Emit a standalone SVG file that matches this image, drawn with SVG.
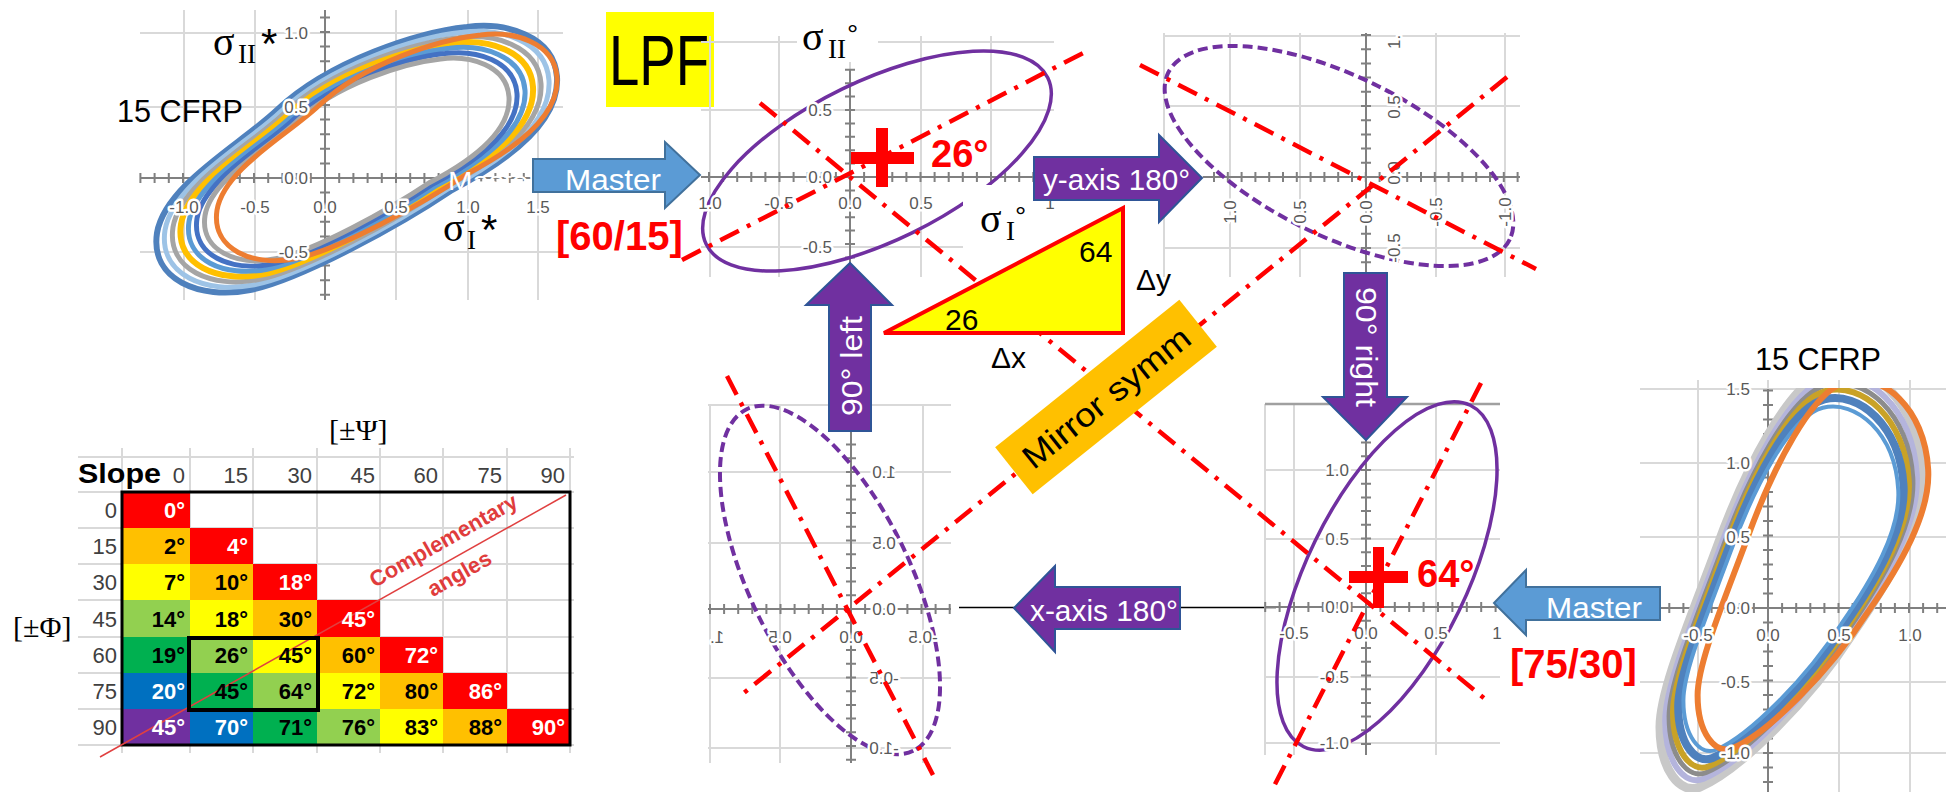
<svg xmlns="http://www.w3.org/2000/svg" width="1946" height="792" viewBox="0 0 1946 792">
<defs>
<style>
.grid{stroke:#d9d9d9;stroke-width:2;fill:none}
.axis{stroke:#808080;stroke-width:2;fill:none}
.tick{stroke:#808080;stroke-width:10;fill:none}
.lbl{font-family:"Liberation Sans",Arial,sans-serif;font-size:17px;fill:#595959;stroke:#fff;stroke-width:5;paint-order:stroke;stroke-linejoin:round}
.mid{text-anchor:middle}
.end{text-anchor:end}
.pe{fill:none;stroke:#7030a0;stroke-width:3.5}
.pd{fill:none;stroke:#7030a0;stroke-width:4;stroke-dasharray:10 5}
.rd{fill:none;stroke:#ff0000;stroke-width:4.5;stroke-dasharray:21 9 4 9}
.pa{fill:#7030a0;stroke:#2f5597;stroke-width:2}
.ba{fill:#5b9bd5;stroke:#41719c;stroke-width:2}
.at{font-family:"Liberation Sans",Arial,sans-serif;font-size:29px;fill:#fff}
.sans{font-family:"Liberation Sans",Arial,sans-serif}
.serif{font-family:"Liberation Serif","Times New Roman",serif}
.red{fill:#ff0000;font-weight:bold;font-family:"Liberation Sans",Arial,sans-serif}
.cell{font-family:"Liberation Sans",Arial,sans-serif;font-size:22px;font-weight:bold;text-anchor:end}
.hd{font-family:"Liberation Sans",Arial,sans-serif;font-size:22px;fill:#404040;text-anchor:end}
.loop{fill:none;stroke-width:5;stroke-linejoin:round}
.R{fill:#ff0000}.O{fill:#ffc000}.Y{fill:#ffff00}.LG{fill:#92d050}.G{fill:#00b050}.B{fill:#0070c0}.P{fill:#7030a0}
.w{fill:#fff}.k{fill:#000}
</style>
<clipPath id="c6"><rect x="1640" y="388" width="306" height="404"/></clipPath>
<path id="loopA" vector-effect="non-scaling-stroke" d="M452,190C500,165 560,125 557,77C554,35 505,22 467,27C420,32 330,60 277,110C240,145 165,185 157,233C150,280 200,300 250,290C300,280 400,225 452,190Z"/>
<path id="loopB" vector-effect="non-scaling-stroke" d="M1853,633C1890,580 1925,520 1922,470C1918,400 1870,360 1830,370C1790,380 1745,470 1717,547C1690,620 1660,690 1660,727C1660,770 1680,795 1700,787C1740,770 1810,700 1853,633Z"/>
</defs>
<rect x="0" y="0" width="1946" height="792" fill="#fff"/>

<!-- Chart 1: top-left CFRP -->
<g id="chart1">
<path class="grid" d="M184,10V300M255,10V300M325,10V300M396,10V300M468,10V300M538,10V300M140,33H563M140,107H563M140,178H563M140,252H563"/>
<path class="axis" d="M140,178H563M325,10V300"/>
<path class="tick" d="M139.4,178H563" stroke-dasharray="2 12.2"/>
<path class="tick" d="M325,16.4V300" stroke-dasharray="2 12.6"/>
<g class="loop">
<use href="#loopA" stroke="#4f81bd" stroke-width="6"/>
<use href="#loopA" transform="matrix(0.96,0,0,0.96,14.28,6.4)" stroke="#9dc3e6"/>
<use href="#loopA" transform="matrix(0.92,0,0,0.92,28.56,12.8)" stroke="#a5a5a5"/>
<use href="#loopA" transform="matrix(0.88,0,0,0.88,42.84,19.2)" stroke="#ffc000" stroke-width="6"/>
<use href="#loopA" transform="matrix(0.84,0,0,0.84,57.12,25.6)" stroke="#5b9bd5"/>
<use href="#loopA" transform="matrix(0.8,0,0,0.8,71.4,32)" stroke="#4472c4"/>
<use href="#loopA" transform="matrix(0.76,0,0,0.76,85.68,38.4)" stroke="#a5a5a5"/>
<use href="#loopA" transform="matrix(0.85,0,0,0.85,83.55,12)" stroke="#ed7d31"/>
</g>
<g class="lbl mid">
<text x="184" y="213">-1.0</text><text x="255" y="213">-0.5</text><text x="325" y="213">0.0</text><text x="396" y="213">0.5</text><text x="468" y="213">1.0</text><text x="538" y="213">1.5</text>
</g>
<g class="lbl end">
<text x="308" y="39">1.0</text><text x="308" y="113">0.5</text><text x="308" y="184">0.0</text><text x="308" y="258">-0.5</text>
</g>
<text class="sans" x="448" y="190" font-size="26" fill="#fff" textLength="90" lengthAdjust="spacingAndGlyphs">Master</text>
<text class="sans" x="117" y="122" font-size="31" textLength="126" lengthAdjust="spacingAndGlyphs">15 CFRP</text>
<text class="serif" x="213" y="55" font-size="40">σ</text><text class="serif" x="238" y="63" font-size="27">II</text><text class="sans" x="261" y="58" font-size="42">*</text>
<text class="serif" x="443" y="241" font-size="40">σ</text><text class="serif" x="467" y="249" font-size="27">I</text><text class="sans" x="481" y="244" font-size="42">*</text>
</g>

<!-- LPF -->
<g id="lpf">
<rect x="606" y="12" width="108" height="95" fill="#ffff00"/>
<text class="sans" x="609" y="85" font-size="70" textLength="100" lengthAdjust="spacingAndGlyphs">LPF</text>
</g>

<!-- Chart 2: top middle -->
<g id="chart2">
<path class="grid" d="M710,36V277M779,36V277M850,36V277M921,36V277M991,36V277M701,42H1054M701,110H1054M701,177H1054M701,247H1054"/>
<path class="axis" d="M701,177H1054M850,70V263"/>
<path class="tick" d="M708,177H1054" stroke-dasharray="2 12.1"/>
<path class="tick" d="M850,68.8V263" stroke-dasharray="2 11.4"/>
<ellipse class="pe" cx="877" cy="161" rx="190" ry="80" transform="rotate(-26 877 161)"/>
<rect x="963" y="185" width="97" height="95" fill="#fff"/>
<rect x="797" y="18" width="81" height="44" fill="#fff"/>
<g class="lbl mid">
<text x="710" y="209">1.0</text><text x="779" y="209">-0.5</text><text x="850" y="209">0.0</text><text x="921" y="209">0.5</text><text x="1050" y="209">1</text>
</g>
<g class="lbl end">
<text x="832" y="116">0.5</text><text x="832" y="183">0.0</text><text x="832" y="253">-0.5</text>
</g>
<text class="serif" x="802" y="50" font-size="40">σ</text><text class="serif" x="828" y="58" font-size="27">II</text><text class="sans" x="847" y="44" font-size="28">°</text>
</g>

<!-- Chart 3: top right dashed -->
<g id="chart3">
<path class="grid" d="M1164,33V277M1230,33V277M1300,33V277M1366,33V277M1436,33V277M1505,33V277M1164,36H1520M1164,106H1520M1164,177H1520M1164,248H1520"/>
<path class="axis" d="M1203,177H1520M1366,33V272"/>
<path class="tick" d="M1213,177H1520" stroke-dasharray="2 11.8"/>
<path class="tick" d="M1366,34V272" stroke-dasharray="2 12.2"/>
<ellipse class="pd" cx="1339" cy="156" rx="190" ry="80" transform="rotate(26 1339 156)"/>
<g class="lbl mid">
<text transform="translate(1236,212) rotate(-90)">1.0</text>
<text transform="translate(1306,212) rotate(-90)">0.5</text>
<text transform="translate(1372,212) rotate(-90)">0.0</text>
<text transform="translate(1442,212) rotate(-90)">-0.5</text>
<text transform="translate(1511,212) rotate(-90)">-1.0</text>
<text transform="translate(1400,107) rotate(-90)">0.5</text>
<text transform="translate(1400,173) rotate(-90)">0.0</text>
<text transform="translate(1400,248) rotate(-90)">-0.5</text>
</g>
<text class="lbl" transform="translate(1400,49) rotate(-90)">1.</text>
</g>

<!-- Chart 4: bottom left dashed (mirrored labels) -->
<g id="chart4">
<path class="grid" d="M710,405V763M780,405V763M851,405V763M923,405V763M708,405H951M708,472H951M708,543H951M708,609H951M708,678H951M708,748H951"/>
<path class="axis" d="M708,609H951M851,431V763"/>
<path class="tick" d="M709,609H951" stroke-dasharray="2 12.1"/>
<path class="tick" d="M851,443.6V763" stroke-dasharray="2 11.7"/>
<ellipse class="pd" cx="830" cy="580" rx="190" ry="80" transform="rotate(64 830 580)"/>
<g class="lbl mid">
<text transform="translate(884,478) scale(-1,1)">1.0</text>
<text transform="translate(884,549) scale(-1,1)">0.5</text>
<text transform="translate(884,615) scale(-1,1)">0.0</text>
<text transform="translate(884,684) scale(-1,1)">-0.5</text>
<text transform="translate(884,754) scale(-1,1)">-1.0</text>
<text transform="translate(717,643) scale(-1,1)">1.</text>
<text transform="translate(780,643) scale(-1,1)">0.5</text>
<text transform="translate(851,643) scale(-1,1)">0.0</text>
<text transform="translate(923,643) scale(-1,1)">-0.5</text>
</g>
</g>

<!-- Chart 5: bottom middle-right solid -->
<g id="chart5">
<line x1="959" y1="607.5" x2="1276" y2="607.5" stroke="#000" stroke-width="1.5"/>
<path class="grid" d="M1265,404V755M1294,404V755M1366,404V755M1436,404V755M1265,470H1500M1265,539H1500M1265,607H1500M1265,677H1500M1265,743H1500"/>
<path d="M1265,404H1500" stroke="#a0a0a0" stroke-width="2.5"/>
<path class="axis" d="M1265,607H1500M1366,440V755"/>
<path class="tick" d="M1264.2,607H1500" stroke-dasharray="2 12.4"/>
<path class="tick" d="M1366,441.6V755" stroke-dasharray="2 11.7"/>
<ellipse class="pe" cx="1387" cy="576" rx="190" ry="80" transform="rotate(-64 1387 576)"/>
<g class="lbl end">
<text x="1349" y="476">1.0</text><text x="1349" y="545">0.5</text><text x="1349" y="613">0.0</text><text x="1349" y="683">-0.5</text><text x="1349" y="749">-1.0</text>
</g>
<g class="lbl mid">
<text x="1294" y="639">-0.5</text><text x="1366" y="639">0.0</text><text x="1436" y="639">0.5</text><text x="1497" y="639">1</text>
</g>
</g>

<!-- Chart 6: right CFRP -->
<g id="chart6">
<path class="grid" d="M1698,380V792M1768,380V792M1839,380V792M1910,380V792M1640,389H1946M1640,463H1946M1640,537H1946M1640,608H1946M1640,682H1946M1640,753H1946"/>
<path class="axis" d="M1640,608H1946M1768,389V792"/>
<path class="tick" d="M1640.1,608H1946" stroke-dasharray="2 12.1"/>
<path class="tick" d="M1768,389.5V792" stroke-dasharray="2 12.5"/>
<g class="loop" clip-path="url(#c6)">
<use href="#loopB" stroke="#c8c8c8" stroke-width="9"/>
<use href="#loopB" transform="matrix(0.96,0,0,0.96,71.6,23.2)" stroke="#b4b4dc" stroke-width="6"/>
<use href="#loopB" transform="matrix(0.93,0,0,0.93,125.3,40.6)" stroke="#8c8c8c"/>
<use href="#loopB" transform="matrix(0.9,0,0,0.9,179,58)" stroke="#c9a227" stroke-width="6"/>
<use href="#loopB" transform="matrix(0.86,0,0,0.86,250.6,81.2)" stroke="#4f81bd" stroke-width="8"/>
<use href="#loopB" transform="matrix(0.82,0,0,0.82,322.2,104.4)" stroke="#5b9bd5" stroke-width="4"/>
<use href="#loopB" transform="matrix(0.88,0,0,0.88,236.8,55.6)" stroke="#ed7d31" stroke-width="6"/>
</g>
<g class="lbl end">
<text x="1750" y="395">1.5</text><text x="1750" y="469">1.0</text><text x="1750" y="543">0.5</text><text x="1750" y="614">0.0</text><text x="1750" y="688">-0.5</text><text x="1750" y="759">-1.0</text>
</g>
<g class="lbl mid">
<text x="1698" y="641">-0.5</text><text x="1768" y="641">0.0</text><text x="1839" y="641">0.5</text><text x="1910" y="641">1.0</text>
</g>
<text class="sans" x="1755" y="370" font-size="31" textLength="126" lengthAdjust="spacingAndGlyphs">15 CFRP</text>
</g>

<!-- Table -->
<g id="table">
<path class="grid" d="M122,448V753M190,448V753M253,448V753M317,448V753M380,448V753M443,448V753M507,448V753M570,448V753M78,457H574M78,492H574M78,528H574M78,564H574M78,600H574M78,637H574M78,673H574M78,709H574M78,745H574"/>
<rect class="R" x="122" y="492" width="68" height="36"/>
<rect class="O" x="122" y="528" width="68" height="36"/><rect class="R" x="190" y="528" width="63" height="36"/>
<rect class="Y" x="122" y="564" width="68" height="36"/><rect class="O" x="190" y="564" width="63" height="36"/><rect class="R" x="253" y="564" width="64" height="36"/>
<rect class="LG" x="122" y="600" width="68" height="37"/><rect class="Y" x="190" y="600" width="63" height="37"/><rect class="O" x="253" y="600" width="64" height="37"/><rect class="R" x="317" y="600" width="63" height="37"/>
<rect class="G" x="122" y="637" width="68" height="36"/><rect class="LG" x="190" y="637" width="63" height="36"/><rect class="Y" x="253" y="637" width="64" height="36"/><rect class="O" x="317" y="637" width="63" height="36"/><rect class="R" x="380" y="637" width="63" height="36"/>
<rect class="B" x="122" y="673" width="68" height="36"/><rect class="G" x="190" y="673" width="63" height="36"/><rect class="LG" x="253" y="673" width="64" height="36"/><rect class="Y" x="317" y="673" width="63" height="36"/><rect class="O" x="380" y="673" width="63" height="36"/><rect class="R" x="443" y="673" width="64" height="36"/>
<rect class="P" x="122" y="709" width="68" height="36"/><rect class="B" x="190" y="709" width="63" height="36"/><rect class="G" x="253" y="709" width="64" height="36"/><rect class="LG" x="317" y="709" width="63" height="36"/><rect class="Y" x="380" y="709" width="63" height="36"/><rect class="O" x="443" y="709" width="64" height="36"/><rect class="R" x="507" y="709" width="63" height="36"/>
<rect x="122" y="492" width="448" height="253" fill="none" stroke="#000" stroke-width="3"/>
<line x1="566" y1="495" x2="100" y2="757" stroke="#e04040" stroke-width="1.5"/>
<g class="cell">
<text class="w" x="185" y="518">0°</text>
<text class="k" x="185" y="554">2°</text><text class="w" x="248" y="554">4°</text>
<text class="k" x="185" y="590">7°</text><text class="k" x="248" y="590">10°</text><text class="w" x="312" y="590">18°</text>
<text class="k" x="185" y="627">14°</text><text class="k" x="248" y="627">18°</text><text class="k" x="312" y="627">30°</text><text class="w" x="375" y="627">45°</text>
<text class="k" x="185" y="663">19°</text><text class="k" x="248" y="663">26°</text><text class="k" x="312" y="663">45°</text><text class="k" x="375" y="663">60°</text><text class="w" x="438" y="663">72°</text>
<text class="w" x="185" y="699">20°</text><text class="k" x="248" y="699">45°</text><text class="k" x="312" y="699">64°</text><text class="k" x="375" y="699">72°</text><text class="k" x="438" y="699">80°</text><text class="w" x="502" y="699">86°</text>
<text class="w" x="185" y="735">45°</text><text class="w" x="248" y="735">70°</text><text class="k" x="312" y="735">71°</text><text class="k" x="375" y="735">76°</text><text class="k" x="438" y="735">83°</text><text class="k" x="502" y="735">88°</text><text class="w" x="565" y="735">90°</text>
</g>
<rect x="189" y="638" width="129" height="72" fill="none" stroke="#000" stroke-width="4"/>
<g class="hd">
<text x="185" y="483">0</text><text x="248" y="483">15</text><text x="312" y="483">30</text><text x="375" y="483">45</text><text x="438" y="483">60</text><text x="502" y="483">75</text><text x="565" y="483">90</text>
<text x="117" y="518">0</text><text x="117" y="554">15</text><text x="117" y="590">30</text><text x="117" y="627">45</text><text x="117" y="663">60</text><text x="117" y="699">75</text><text x="117" y="735">90</text>
</g>
<text class="sans" x="78" y="483" font-size="27" font-weight="bold" textLength="83" lengthAdjust="spacingAndGlyphs">Slope</text>
<text class="sans" transform="translate(447,547) rotate(-29.5)" font-size="22" font-weight="bold" fill="#e03c3c" text-anchor="middle">Complementary</text>
<text class="sans" transform="translate(463,580) rotate(-29.5)" font-size="22" font-weight="bold" fill="#e03c3c" text-anchor="middle">angles</text>
<text class="serif" x="329" y="440" font-size="30">[±Ψ]</text>
<text class="serif" x="13" y="637" font-size="30">[±Φ]</text>
</g>

<!-- Red dash-dot symmetry lines -->
<g id="symmetry-lines">
<path class="rd" d="M682,260L1085,52"/>
<path class="rd" d="M760,103L1490,703"/>
<path class="rd" d="M1140,65L1536,269"/>
<path class="rd" d="M1507,77L740,696"/>
<path class="rd" d="M727,376L933,775"/>
<path class="rd" d="M1481,383L1272,790"/>
</g>

<!-- Triangle -->
<g id="triangle">
<polygon points="884,333 1123,208 1123,333" fill="#ffff00" stroke="#ff0000" stroke-width="4" stroke-linejoin="miter"/>
<text class="sans" x="1079" y="262" font-size="30">64</text>
<text class="sans" x="945" y="330" font-size="30">26</text>
<text class="sans" x="1136" y="290" font-size="30">Δy</text>
<text class="sans" x="991" y="368" font-size="30">Δx</text>
<text class="serif" x="980" y="232" font-size="40">σ</text><text class="serif" x="1006" y="240" font-size="27">I</text><text class="sans" x="1015" y="226" font-size="28">°</text>
</g>

<!-- Mirror symm -->
<g id="mirror" transform="translate(1106,397) rotate(-38.7)">
<rect x="-118" y="-30" width="236" height="60" fill="#ffc000"/>
<text class="sans" x="0" y="12" font-size="33" text-anchor="middle" textLength="205" lengthAdjust="spacingAndGlyphs">Mirror symm</text>
</g>

<!-- Crosses and angle labels -->
<g id="marks">
<rect x="876" y="128" width="12" height="59" fill="#ff0000"/>
<rect x="851" y="152" width="63" height="12" fill="#ff0000"/>
<text class="red" x="931" y="167" font-size="38">26°</text>
<rect x="1373" y="547" width="11" height="61" fill="#ff0000"/>
<rect x="1349" y="571" width="59" height="12" fill="#ff0000"/>
<text class="red" x="1417" y="587" font-size="38">64°</text>
<text class="red" x="556" y="250" font-size="40">[60/15]</text>
<text class="red" x="1510" y="678" font-size="40">[75/30]</text>
</g>

<!-- Block-arrow connectors -->
<g id="connectors">
<path class="ba" d="M533,159H665V142L700,175L665,208V192H533Z"/>
<text class="at" x="565" y="190" font-size="28" textLength="96" lengthAdjust="spacingAndGlyphs">Master</text>
<path class="pa" d="M1034,157H1159V135L1202,178L1159,222V200H1034Z"/>
<text class="at" x="1043" y="190" textLength="147" lengthAdjust="spacingAndGlyphs">y-axis 180°</text>
<path class="pa" d="M1344,273H1387V397H1407L1366,440L1323,397H1344Z"/>
<text class="at" transform="translate(1356,287) rotate(90)" textLength="120" lengthAdjust="spacingAndGlyphs">90° right</text>
<path class="pa" d="M829,431V305H806L850,263L892,305H871V431Z"/>
<text class="at" transform="translate(862,416) rotate(-90)" textLength="100" lengthAdjust="spacingAndGlyphs">90° left</text>
<path class="pa" d="M1180,587V629H1055V652L1014,608L1055,566V587Z"/>
<text class="at" x="1030" y="621" textLength="148" lengthAdjust="spacingAndGlyphs">x-axis 180°</text>
<path class="ba" d="M1660,587V620H1526V635L1494,603L1526,570V587Z"/>
<text class="at" x="1546" y="618" font-size="28" textLength="96" lengthAdjust="spacingAndGlyphs">Master</text>
</g>
</svg>
